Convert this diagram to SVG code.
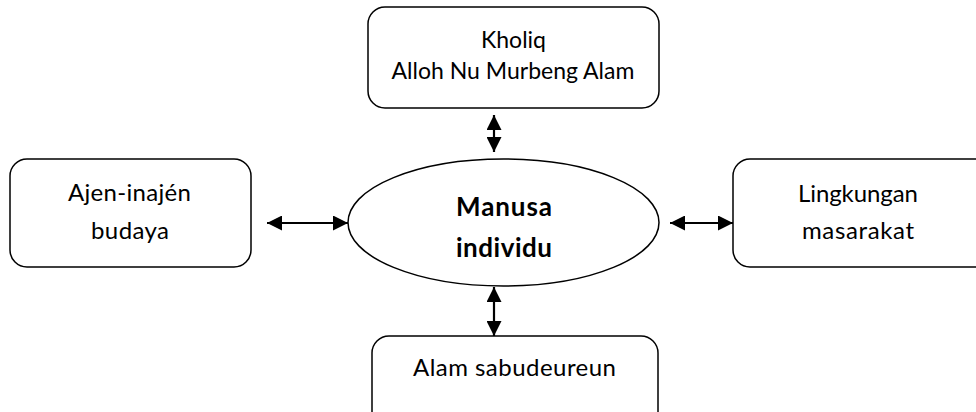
<svg xmlns="http://www.w3.org/2000/svg" width="976" height="412" viewBox="0 0 976 412">
<style>
.box{fill:#fff;stroke:#000;stroke-width:1.5}
.t{font-family:Lato,"Open Sans",sans-serif;font-size:24px;fill:#000;text-anchor:middle}
.s{font-size:23px}
.b{font-weight:bold;font-size:26px}
.c{stroke:#000;stroke-width:2.2;fill:none;marker-start:url(#h);marker-end:url(#h)}
</style>
<defs>
<marker id="h" viewBox="0 0 15 15" refX="15" refY="7.5" markerWidth="15" markerHeight="15" orient="auto-start-reverse" markerUnits="userSpaceOnUse">
<path d="M0,0 L15,7.5 L0,15 z" fill="#000"/>
</marker>
</defs>
<g id="kholiq">
<rect class="box" x="368" y="7" width="291" height="101" rx="17"/>
<text class="t s" x="513.5" y="48">Kholiq</text>
<text class="t s" x="513" y="79">Alloh Nu Murbeng Alam</text>
</g>
<g id="budaya">
<rect class="box" x="10" y="159" width="241" height="108" rx="17"/>
<text class="t" x="129.5" y="201" textLength="123" lengthAdjust="spacing">Ajen-inajén</text>
<text class="t" x="130" y="239" textLength="78" lengthAdjust="spacing">budaya</text>
</g>
<g id="masarakat">
<rect class="box" x="733" y="159" width="260" height="108" rx="17"/>
<text class="t" x="858" y="202" textLength="120" lengthAdjust="spacing">Lingkungan</text>
<text class="t" x="858" y="239" textLength="112" lengthAdjust="spacing">masarakat</text>
</g>
<g id="alam">
<rect class="box" x="372" y="336" width="286" height="100" rx="17"/>
<text class="t" x="514.5" y="376" textLength="203" lengthAdjust="spacing">Alam sabudeureun</text>
</g>
<g id="manusa">
<ellipse class="box" cx="503.5" cy="222.5" rx="155.5" ry="63.5"/>
<text class="t b" x="504" y="216" textLength="96" lengthAdjust="spacing">Manusa</text>
<text class="t b" x="504" y="257" textLength="96" lengthAdjust="spacing">individu</text>
</g>
<g id="connectors">
<line class="c" x1="494" y1="115" x2="494" y2="152"/>
<line class="c" x1="494" y1="287" x2="494" y2="336"/>
<line class="c" x1="267" y1="223" x2="348" y2="223"/>
<line class="c" x1="670" y1="223" x2="733" y2="223"/>
</g>
</svg>
